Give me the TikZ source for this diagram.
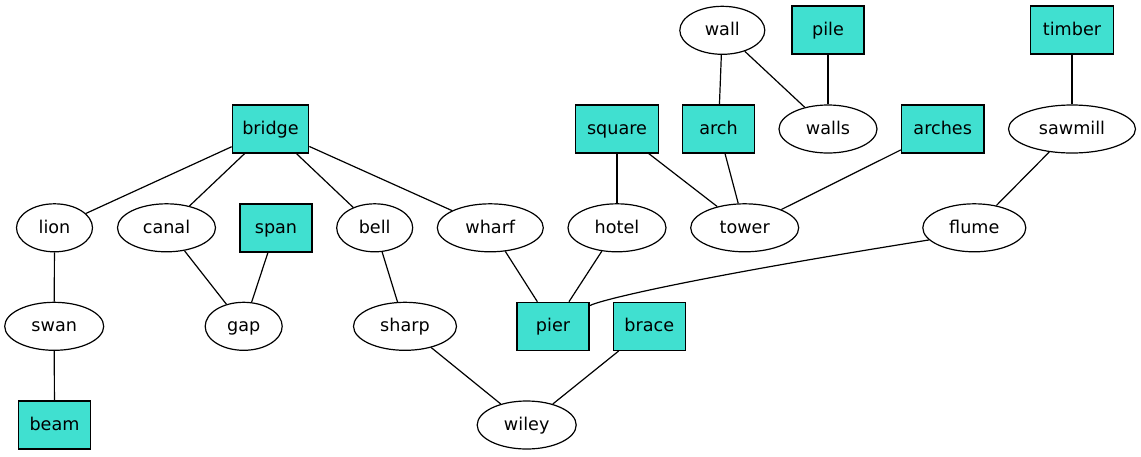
\documentclass[tikz,border=0pt]{standalone}
\usepackage{fontspec}
\setmainfont{DejaVu Sans}
\usetikzlibrary{shapes.geometric}
\definecolor{turq}{RGB}{64,224,208}
\begin{document}
\begin{tikzpicture}[x=1pt,y=-1pt,
  every node/.style={font=\fontsize{17.6}{20}\selectfont, text height=14pt, text depth=3.4pt, inner sep=0pt, line width=1.2pt},
  bx/.style={draw, fill=turq, rectangle, minimum width=#1, minimum height=48},
  el/.style={draw, ellipse, minimum width=#1, minimum height=48},
  edge/.style={line width=1.2pt}]
\useasboundingbox (0,0) rectangle (1141,456);
\node[el=85] (wall) at (722.3,30.3) {wall};
\node[bx=72] (pile) at (828,30) {pile};
\node[bx=82.5] (timber) at (1072,30) {timber};
\node[bx=76.5] (bridge) at (270.5,129) {bridge};
\node[bx=82.5] (square) at (617,129) {square};
\node[bx=72] (arch) at (718.5,129) {arch};
\node[el=98] (walls) at (828,129) {walls};
\node[bx=82.5] (arches) at (942.7,129) {arches};
\node[el=127] (sawmill) at (1072,129) {sawmill};
\node[el=76] (lion) at (54.5,227.8) {lion};
\node[el=98] (canal) at (166.5,227.8) {canal};
\node[bx=72] (span) at (276,228) {span};
\node[el=76] (bell) at (374.7,227.8) {bell};
\node[el=106] (wharf) at (490.3,227.8) {wharf};
\node[el=98] (hotel) at (617,227.8) {hotel};
\node[el=108] (tower) at (744.7,227.8) {tower};
\node[el=103] (flume) at (974.3,227.8) {flume};
\node[el=99] (swan) at (54.2,326.3) {swan};
\node[el=77] (gap) at (243.7,326.3) {gap};
\node[el=103] (sharp) at (405,326.3) {sharp};
\node[bx=72] (pier) at (553,326.3) {pier};
\node[bx=72] (brace) at (649.3,326.3) {brace};
\node[bx=72] (beam) at (54.5,425) {beam};
\node[el=99] (wiley) at (526.7,425) {wiley};
\draw[edge] (bridge) -- (lion);
\draw[edge] (bridge) -- (canal);
\draw[edge] (bridge) -- (bell);
\draw[edge] (bridge) -- (wharf);
\draw[edge] (canal) -- (gap);
\draw[edge] (span) -- (gap);
\draw[edge] (lion) -- (swan);
\draw[edge] (swan) -- (beam);
\draw[edge] (bell) -- (sharp);
\draw[edge] (sharp) -- (wiley);
\draw[edge] (brace) -- (wiley);
\draw[edge] (wharf) -- (pier);
\draw[edge] (hotel) -- (pier);
\draw[edge] ([yshift=-4pt]pier.north east) .. controls (600,300) and (690,278) .. (flume.195);
\draw[edge] (square) -- (hotel);
\draw[edge] (square) -- (tower);
\draw[edge] (arch) -- (tower);
\draw[edge] (arches) -- (tower);
\draw[edge] (wall) -- (arch);
\draw[edge] (wall) -- (walls);
\draw[edge] (pile) -- (walls);
\draw[edge] (timber) -- (sawmill);
\draw[edge] (sawmill) -- (flume);
\end{tikzpicture}
\end{document}
